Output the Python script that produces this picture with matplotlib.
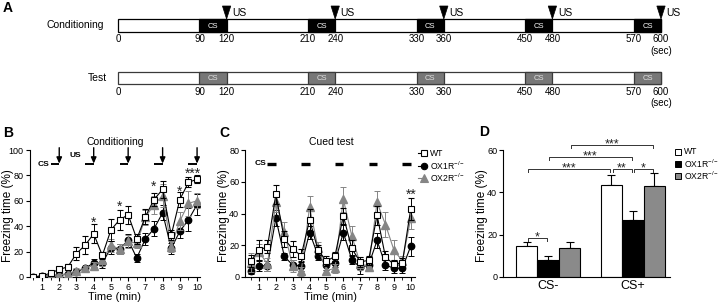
import matplotlib
matplotlib.use('Agg')
import matplotlib.pyplot as plt
from matplotlib.patches import Rectangle, Polygon
from matplotlib.transforms import ScaledTranslation

plt.rcParams['font.family'] = ['Liberation Sans', 'DejaVu Sans']
plt.rcParams['mathtext.fontset'] = 'custom'
plt.rcParams['mathtext.rm'] = 'Liberation Sans'
plt.rcParams['mathtext.it'] = 'Liberation Sans:italic'
plt.rcParams['mathtext.bf'] = 'Liberation Sans:bold'
plt.rcParams['axes.linewidth'] = 0.8

# ---------------- data ----------------
session_len = 600
cs_onsets = [90, 210, 330, 450, 570]
cs_dur = 30
us_times = [120, 240, 360, 480, 600]
timeline_ticks = [0, 90, 120, 210, 240, 330, 360, 450, 480, 570, 600]

minutes = [0.5, 1, 1.5, 2, 2.5, 3, 3.5, 4, 4.5, 5, 5.5, 6, 6.5, 7, 7.5, 8, 8.5, 9, 9.5, 10]
cs_end_min = [2, 4, 6, 8, 10]
cs_len_min = 0.5

cond_wt = [0, 1, 3, 6, 8, 18.5, 25, 34, 17, 37, 45, 49, 30, 47.5, 61, 69, 33, 61, 74.5, 77]
cond_wt_sem = [0.5, 1, 1.5, 2, 2.5, 5.5, 7, 7.5, 3, 9, 8, 7, 4, 6, 5, 6.5, 4, 6, 4, 3]
cond_ox1r = [0, 0.5, 1, 1.5, 2.5, 4, 7, 11, 11, 23, 22, 29, 15, 30, 38, 50.5, 22.5, 36, 45, 57]
cond_ox1r_sem = [0.5, 0.5, 1, 1, 1, 2, 2, 3, 4, 5, 4, 5, 3, 5, 6, 6, 4, 5, 9, 8]
cond_ox2r = [0, 0.5, 1, 1.5, 2.5, 5, 7, 9, 13, 25, 22, 28, 26.5, 47, 57, 64, 24, 44, 58, 60]
cond_ox2r_sem = [0.5, 0.5, 1, 1, 1, 2, 2, 3, 4, 5, 4, 5, 4, 6, 7, 9, 4, 7, 10, 6]
cond_stars = [(4, 45.5, '*'), (5.5, 58, '*'), (7.5, 74, '*'), (9, 70, '*'), (9.75, 84, '***')]

test_wt = [10, 17, 19, 52, 24, 17.5, 13.5, 36, 17, 10, 13, 38.5, 18, 9.5, 10.5, 39, 12.5, 8, 9, 43]
test_wt_sem = [4, 6, 4, 6, 5, 5, 4, 7, 3, 3, 3, 5, 5, 3, 3, 6, 4, 3, 3, 7]
test_ox1r = [4, 7, 7, 37, 13, 7.5, 7, 28, 13.5, 7.5, 9, 28, 11, 6, 7.5, 23, 7.5, 5.5, 5.5, 19.5]
test_ox1r_sem = [2, 3, 3, 5, 2, 3, 3, 4, 3, 3, 3, 5, 3, 4, 2, 5, 3, 3, 3, 6]
test_ox2r = [9, 16, 8, 47, 28.5, 7, 3.5, 44, 18, 4, 5.5, 49, 26, 8.5, 6.5, 47, 33, 17, 10, 37]
test_ox2r_sem = [6, 5, 4, 6, 6, 4, 3, 7, 4, 3, 3, 8, 6, 4, 3, 7, 8, 6, 3, 7]
test_stars = [(10, 54, '**')]

groups = ['CS-', 'CS+']
genotypes = ['WT', 'OX1R$^{-/-}$', 'OX2R$^{-/-}$']
bar_wt = [14.5, 43.5]
bar_wt_sem = [2, 4.5]
bar_ox1r = [8, 27]
bar_ox1r_sem = [2, 4]
bar_ox2r = [13.5, 43]
bar_ox2r_sem = [3, 6]
# (group1, genotype1, group2, genotype2, height, label)
bar_brackets = [(0, 0, 0, 1, 18.4, '*'),
                (0, 0, 1, 0, 50.9, '***'),
                (1, 0, 1, 1, 50.9, '**'),
                (1, 1, 1, 2, 50.9, '*'),
                (0, 1, 1, 1, 56.8, '***'),
                (0, 2, 1, 2, 62.3, '***')]

GRAY = '#858585'
W, H = 720, 304
fig = plt.figure(figsize=(7.2, 3.04), dpi=100)


def px_axes(x0, y0, x1, y1):
    return fig.add_axes([x0 / W, 1 - y1 / H, (x1 - x0) / W, (y1 - y0) / H])


def star(ax, x, yc, label, fs):
    tr = ax.transData + ScaledTranslation(0, -0.56 * fs / 72, fig.dpi_scale_trans)
    ax.text(x, yc, label, transform=tr, ha='center', va='baseline', fontsize=fs,
            clip_on=False, color='#222222')


def style_axes(ax):
    for s in ['top', 'right']:
        ax.spines[s].set_visible(False)
    ax.tick_params(labelsize=6.5, length=3, width=0.8, pad=1.2)


# ---------------- panel A ----------------
axA = px_axes(118, 0, 661, 120)
axA.set_xlim(0, session_len)
axA.set_ylim(120, 0)
axA.axis('off')
axA.add_patch(Rectangle((0, 19), session_len, 13, fc='white', ec='black', lw=0.9, clip_on=False))
axA.add_patch(Rectangle((0, 72), session_len, 12, fc='white', ec='#3a3a3a', lw=0.9, clip_on=False))
for on in cs_onsets:
    axA.add_patch(Rectangle((on, 19), cs_dur, 13, fc='black', ec='black', lw=0.9, clip_on=False))
    axA.text(on + cs_dur / 2, 26, 'CS', color='white', fontsize=5.5, ha='center', va='center')
    axA.add_patch(Rectangle((on, 72), cs_dur, 12, fc='#777777', ec='#3a3a3a', lw=0.9, clip_on=False))
    axA.text(on + cs_dur / 2, 78.5, 'CS', color='#e2e2e2', fontsize=5.5, ha='center', va='center')
for t in us_times:
    axA.add_patch(Polygon([(t - 4.6, 6), (t + 4.6, 6), (t, 19)], closed=True, fc='black', ec='black',
                          lw=0.5, clip_on=False))
    axA.text(t + 6, 12.5, 'US', fontsize=7.5, ha='left', va='center')
for t in timeline_ticks:
    axA.text(t, 39.5, str(t), fontsize=7, ha='center', va='center')
    axA.text(t, 92, str(t), fontsize=7, ha='center', va='center')
axA.text(session_len, 50.5, '(sec)', fontsize=7, ha='center', va='center')
axA.text(session_len, 103, '(sec)', fontsize=7, ha='center', va='center')
axA.text(-15, 25.5, 'Conditioning', fontsize=7.5, ha='right', va='center')
axA.text(-12, 78, 'Test', fontsize=7.5, ha='right', va='center')


def plot_series(ax, y_wt, e_wt, y_1, e_1, y_2, e_2):
    kw = dict(elinewidth=0.7, capsize=2.2, capthick=0.7, lw=0.8)
    ax.errorbar(minutes, y_1, yerr=e_1, color='black', ecolor='black', marker='o', ms=4.6,
                mfc='black', mec='black', zorder=3, **kw)
    ax.errorbar(minutes, y_2, yerr=e_2, color=GRAY, ecolor=GRAY, marker='^', ms=5.2,
                mfc=GRAY, mec=GRAY, zorder=4, **kw)
    ax.errorbar(minutes, y_wt, yerr=e_wt, color='black', ecolor='black', marker='s', ms=4.8,
                mfc='white', mec='black', mew=0.8, zorder=5, **kw)


xt = [1, 2, 3, 4, 5, 6, 7, 8, 9, 10]

# ---------------- panel B ----------------
axB = px_axes(29.5, 150, 200, 277)
plot_series(axB, cond_wt, cond_wt_sem, cond_ox1r, cond_ox1r_sem, cond_ox2r, cond_ox2r_sem)
axB.set_xlim(0.274, 10.17)
axB.set_ylim(0, 100)
axB.set_xticks(xt)
axB.set_xticks(minutes, minor=True)
axB.set_yticks([0, 20, 40, 60, 80, 100])
style_axes(axB)
axB.tick_params(which='minor', length=1.8, width=0.6)
for t in cs_end_min:
    axB.plot([t - cs_len_min, t], [89, 89], color='black', lw=1.4, solid_capstyle='butt', clip_on=False)
    axB.annotate('', xy=(t, 89.3), xytext=(t, 101.8), annotation_clip=False,
                 arrowprops=dict(arrowstyle='-|>,head_length=0.45,head_width=0.2', lw=1.0,
                                 color='black', shrinkA=0, shrinkB=0, mutation_scale=8))
axB.text(1.45, 88.5, 'CS', fontsize=6, fontweight='bold', ha='right', va='center', clip_on=False)
axB.text(2.96, 95.8, 'US', fontsize=6, fontweight='bold', ha='center', va='center', clip_on=False)
for x, y, s in cond_stars:
    star(axB, x, y, s, 10)

# ---------------- panel C ----------------
axC = px_axes(245, 150, 415, 277)
plot_series(axC, test_wt, test_wt_sem, test_ox1r, test_ox1r_sem, test_ox2r, test_ox2r_sem)
axC.set_xlim(0.17, 10.25)
axC.set_ylim(0, 80)
axC.set_xticks(xt)
axC.set_xticks(minutes, minor=True)
axC.set_yticks([0, 20, 40, 60, 80])
style_axes(axC)
axC.tick_params(which='minor', length=1.8, width=0.6)
for t in cs_end_min:
    axC.plot([t - cs_len_min, t], [71.2, 71.2], color='black', lw=2.4, solid_capstyle='butt', clip_on=False)
axC.text(1.42, 71.2, 'CS', fontsize=6, fontweight='bold', ha='right', va='center', clip_on=False)
for x, y, s in test_stars:
    star(axC, x, y, s, 10)

# ---------------- panel D ----------------
axD = px_axes(503, 150, 670, 277)
bw = 0.2535
bar_vals = [bar_wt, bar_ox1r, bar_ox2r]
bar_sems = [bar_wt_sem, bar_ox1r_sem, bar_ox2r_sem]
bar_cols = ['white', 'black', '#8a8a8a']
for k in range(3):
    xs = [g + (k - 1) * bw for g in range(len(groups))]
    axD.bar(xs, bar_vals[k], width=bw, color=bar_cols[k], edgecolor='black', lw=0.8, zorder=2)
    axD.errorbar(xs, bar_vals[k], yerr=[[0] * len(groups), bar_sems[k]], fmt='none', ecolor='black',
                 elinewidth=0.8, capsize=3, capthick=0.8, zorder=1)
axD.set_xlim(-0.531, 1.439)
axD.set_ylim(0, 60)
axD.set_yticks([0, 20, 40, 60])
axD.set_xticks(range(len(groups)))
axD.set_xticklabels(groups, fontsize=9)
style_axes(axD)
axD.tick_params(axis='x', length=0, pad=2.5, labelsize=9)
for g1, k1, g2, k2, h, lab in bar_brackets:
    x1 = g1 + (k1 - 1) * bw + 0.015
    x2 = g2 + (k2 - 1) * bw - 0.015
    axD.plot([x1, x1, x2, x2], [h - 1.4, h, h, h - 1.4], color='#333333', lw=0.7, clip_on=False)
    star(axD, (x1 + x2) / 2, h + 2.1, lab, 9)

# ---------------- overlay: labels, legends ----------------
ov = fig.add_axes([0, 0, 1, 1], zorder=10)
ov.set_xlim(0, W)
ov.set_ylim(H, 0)
ov.axis('off')
for lab, x, y in [('A', 8, 8), ('B', 8, 133), ('C', 224, 133), ('D', 484, 132)]:
    ov.text(x, y, lab, fontsize=10, fontweight='bold', ha='center', va='center')
ov.text(115, 142, 'Conditioning', fontsize=7.5, ha='center', va='center')
ov.text(331, 142, 'Cued test', fontsize=7.5, ha='center', va='center')
for cx in [115, 330]:
    ov.text(cx, 296.5, 'Time (min)', fontsize=8, ha='center', va='center')
for cx in [8, 224, 482]:
    ov.text(cx, 216, 'Freezing time (%)', fontsize=8.5, rotation=90, ha='center', va='center')

leg_y = [153, 165.5, 178]
leg_style = [dict(marker='s', ms=4.8, mfc='white', mec='black', color='black'),
             dict(marker='o', ms=4.6, mfc='black', mec='black', color='black'),
             dict(marker='^', ms=5.2, mfc=GRAY, mec=GRAY, color=GRAY)]
for y, name, st in zip(leg_y, genotypes, leg_style):
    ov.plot([417.5, 423.5], [y, y], lw=0.8, color=st['color'])
    ov.plot([423.5], [y], ls='none', marker=st['marker'], ms=st['ms'], mfc=st['mfc'], mec=st['mec'], mew=0.8)
    ov.text(430, y, name, fontsize=6.2, ha='left', va='center')

legD_y = [152, 164, 176]
for y, name, col in zip(legD_y, genotypes, bar_cols):
    ov.add_patch(Rectangle((675, y - 2.6), 6, 5.2, fc=col, ec='black', lw=0.7))
    ov.text(684, y, name, fontsize=6.2, ha='left', va='center')

fig.savefig('out.png', dpi=100)
